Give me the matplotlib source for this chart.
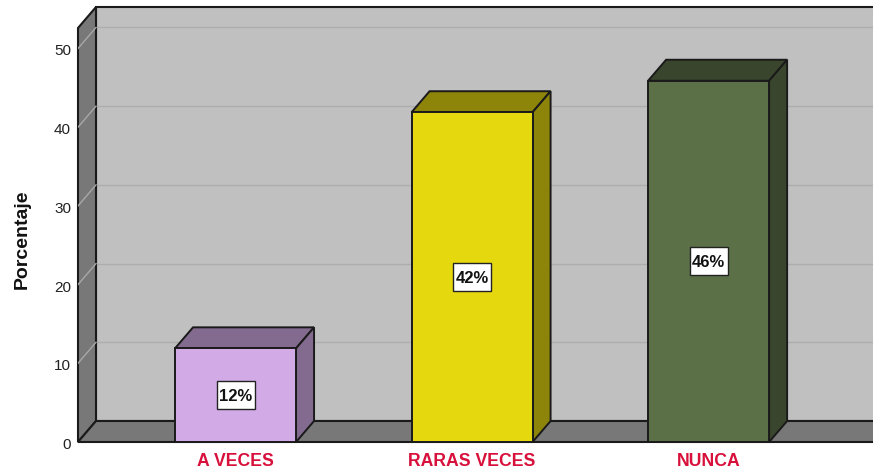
import matplotlib
matplotlib.use("Agg")
import matplotlib.pyplot as plt
from matplotlib.patches import Polygon, Rectangle
from matplotlib.transforms import ScaledTranslation

categories = ["A VECES", "RARAS VECES", "NUNCA"]
values = [11.9, 41.9, 45.9]
bar_labels = ["12%", "42%", "46%"]
front_colors = ["#D2ABE6", "#E6D80E", "#5B7046"]
side_colors = ["#836A8F", "#8D840A", "#39452C"]
yticks = [0, 10, 20, 30, 40, 50]

plt.rcParams["font.family"] = ["Liberation Sans", "DejaVu Sans"]

W, H = 873, 473
fig = plt.figure(figsize=(W / 100, H / 100), dpi=100)
ax = fig.add_axes([78 / W, (H - 442) / H, 795 / W, 435 / H])

ax.set_xlim(-0.666, 2.695)
ax.set_ylim(0, 55.27)
for s in ax.spines.values():
    s.set_visible(False)

# depth of the fake 3d box, in data units
dx = 18 / 236.5
dy = 21 / 7.87
edge = "#1a1a1a"
xmin, xmax = ax.get_xlim()
ymin, ymax = ax.get_ylim()
top = ymax - dy

ax.add_patch(Polygon([(xmin + dx, dy), (xmax + 1, dy), (xmax + 1, top + dy), (xmin + dx, top + dy)],
                     fc="#C0C0C0", ec=edge, lw=1.5, zorder=1, clip_on=False))
ax.add_patch(Polygon([(xmin, 0), (xmin + dx, dy), (xmin + dx, top + dy), (xmin, top)],
                     fc="#787878", ec=edge, lw=1.5, zorder=2, clip_on=False))
ax.add_patch(Polygon([(xmin, 0), (xmin + dx, dy), (xmax + 1, dy), (xmax + 1, 0)],
                     fc="#787878", ec=edge, lw=1.5, zorder=2, clip_on=False))

for t in yticks[1:]:
    ax.plot([xmin + dx, xmax], [t + dy, t + dy], color="#ADADAD", lw=1, zorder=1.5)
    ax.plot([xmin, xmin + dx], [t, t + dy], color="#A8A8A8", lw=1, zorder=2.5)

width = 121 / 236.5
box_w = 38 / 236.5
box_h = 28 / 7.87
for i, v in enumerate(values):
    l, r = i - width / 2, i + width / 2
    ax.add_patch(Polygon([(l, v), (l + dx, v + dy), (r + dx, v + dy), (r, v)],
                         fc=side_colors[i], ec=edge, lw=1.4, zorder=3))
    ax.add_patch(Polygon([(r, 0), (r + dx, dy), (r + dx, v + dy), (r, v)],
                         fc=side_colors[i], ec=edge, lw=1.4, zorder=3, clip_on=False))
    bars = ax.bar(i, v, width=width, color=front_colors[i], edgecolor=edge, lw=1.4, zorder=4)
    bars[0].set_clip_on(False)
    ax.add_patch(Rectangle((i - box_w / 2, v / 2 - box_h / 2), box_w, box_h,
                           fc="white", ec="#222222", lw=1, zorder=5))
    ax.text(i, v / 2, bar_labels[i], ha="center", va="center_baseline", fontsize=12,
            fontweight="bold", color="#111111", zorder=6)

ax.set_xticks(range(len(categories)))
ax.set_xticklabels(categories, color="#D8103C", fontsize=12.7, fontweight="bold")
ax.set_yticks(yticks)
ax.set_yticklabels([str(t) for t in yticks], color="#222222", fontsize=11, va="center")
ax.tick_params(axis="x", length=0, pad=8)
ax.tick_params(axis="y", length=0, pad=5)
# the value labels sit a little under their tick position
shift = ScaledTranslation(0, -3 / 100, fig.dpi_scale_trans)
for lab in ax.get_yticklabels():
    lab.set_transform(lab.get_transform() + shift)
ax.set_ylabel("Porcentaje", fontsize=14, fontweight="bold", color="#111111")
ax.yaxis.set_label_coords(-47 / 795, (442 - 239) / 435)

fig.savefig("out.png", dpi=100)
